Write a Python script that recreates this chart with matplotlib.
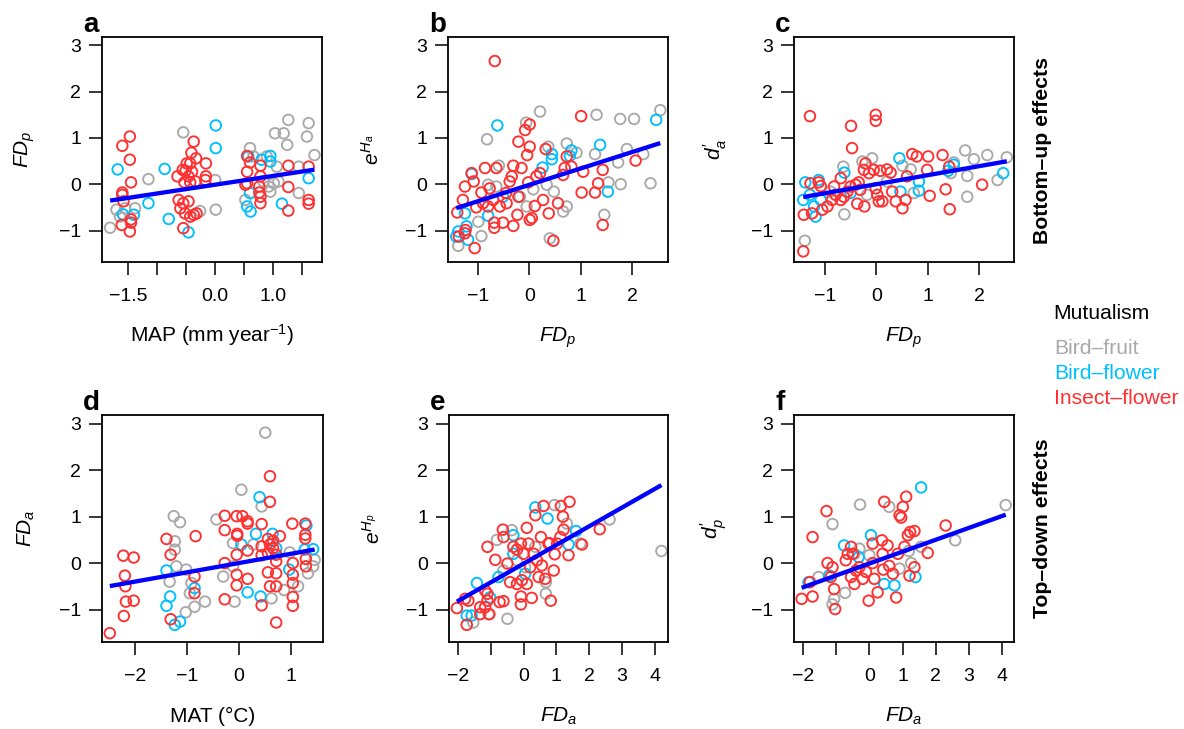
import matplotlib
matplotlib.use("Agg")
import matplotlib.pyplot as plt
import numpy as np

plt.rcParams["font.family"] = ["Liberation Sans", "DejaVu Sans"]
plt.rcParams["mathtext.fontset"] = "custom"
plt.rcParams["mathtext.rm"] = "Liberation Sans"
plt.rcParams["mathtext.it"] = "Liberation Sans:italic"
plt.rcParams["mathtext.bf"] = "Liberation Sans:bold"

# ── groups / colours ──────────────────────────────────────────────────────────
GROUPS = ["Bird\u2013fruit", "Bird\u2013flower", "Insect\u2013flower"]
COLORS = ["#A9A9A9", "#00BFFF", "#FF3030"]
LINE_COLOR = "#0000FF"

# ── panel a: MAP vs FD_p ──────────────────────────────────────────────────────
A_FRUIT_X = [-1.81, -1.70, -1.64, -1.55, -1.38, -1.15, -0.55, -0.26, 0.01, 0.00,
             0.60, 0.66, 0.83, 0.92, 0.95, 1.01, 1.06, 1.09, 1.03, 1.18,
             1.26, 1.24, 1.44, 1.44, 1.61, 1.58, 1.71, 0.52, 0.89]
A_FRUIT_Y = [-0.94, -0.55, -0.70, -0.52, -0.52, 0.11, 1.12, -0.58, -0.55, 0.09,
             0.78, 0.60, 0.06, -0.05, -0.16, 0.02, 0.38, 0.06, 1.10, 1.10,
             1.39, 0.85, 0.38, -0.19, 1.32, 1.03, 0.63, -0.34, 0.60]
A_FLOWER_X = [-1.68, -1.59, -1.40, -1.15, -0.87, -0.80, 0.01, 0.01, -0.46, 0.57,
              0.55, 0.61, 0.80, 0.95, 0.95, 1.15, 1.61, 0.60]
A_FLOWER_Y = [0.32, -0.65, -0.66, -0.41, 0.33, -0.75, 1.27, 0.78, -1.04, 0.60,
              -0.48, -0.59, 0.53, 0.61, 0.49, -0.42, 0.13, -0.19]
A_INSECT_X = [-1.47, -1.60, -1.47, -1.45, -1.60, -1.60, -1.58, -1.45, -1.45, -1.61, -1.47,
              -0.65, -0.56, -0.51, -0.43, -0.37, -0.41, -0.33, -0.49, -0.40, -0.46, -0.53, -0.43, -0.34,
              -0.63, -0.55, -0.60, -0.46, -0.52, -0.43, -0.37, -0.32, -0.55, -0.16, -0.16, -0.17,
              0.55, 0.60, 0.55, 0.55, 0.78, 0.78, 0.76, 0.76, 0.78, 0.78,
              1.26, 1.26, 1.26, 1.61, 1.61, 1.61, 0.52]
A_INSECT_Y = [1.03, 0.83, 0.53, 0.04, -0.18, -0.23, -0.37, -0.76, -0.83, -0.88, -1.02,
              0.17, 0.31, 0.29, 0.45, 0.92, 0.68, 0.56, 0.45, 0.27, 0.17, 0.04, 0.04, 0.06,
              -0.34, -0.41, -0.52, -0.37, -0.63, -0.70, -0.66, -0.63, -0.95, 0.45, 0.17, 0.09,
              0.61, 0.47, 0.27, 0.02, 0.40, 0.17, -0.05, -0.18, -0.27, -0.41,
              0.40, -0.06, -0.57, 0.38, -0.34, -0.42, -0.01]

# ── panel b: FD_p vs e^H_a ────────────────────────────────────────────────────
B_FRUIT_X = [-0.82, -0.06, 0.21, 0.37, 0.73, 0.92, -0.59, -0.80, -0.64, -0.18,
             -0.05, 0.08, 0.34, 0.48, 0.66, 0.40, -0.93, -0.99, -1.38, 1.31,
             1.77, 2.04, 2.55, 1.28, 1.73, 1.90, 2.22, 1.54, 1.78, 2.36, 1.46, 0.73]
B_FRUIT_Y = [0.97, 1.33, 1.57, 0.81, 0.88, 0.68, 0.40, -0.01, -0.05, -0.27,
             -0.48, -0.11, -0.01, -0.16, -0.59, -1.17, -1.12, -0.81, -1.33, 1.50,
             1.41, 1.41, 1.60, 0.65, 0.47, 0.76, 0.65, 0.04, 0.00, 0.02, -0.66, -0.48]
B_FLOWER_X = [-0.62, -1.12, -1.25, -1.22, -1.38, -1.42, -1.19, -0.80, 0.26, 0.44,
              0.44, 0.82, 0.79, 1.38, 1.53, 2.47, -0.51]
B_FLOWER_Y = [1.27, 0.22, -0.63, -0.91, -1.02, -1.13, -1.20, -0.68, 0.36, 0.65,
              0.54, 0.73, 0.61, 0.85, -0.16, 1.39, -0.27]
B_INSECT_X = [-0.67, 1.01, 0.01, -0.08, 0.01, -0.21, -0.04, 0.32, 0.73, -0.64,
              -0.86, -1.12, -1.08, -1.25, -0.93, -0.77, -0.31, -0.15, -0.34, -0.38,
              -0.45, -0.21, -0.02, 0.14, 0.21, -0.90, -0.80, -0.70, -0.57, -0.44,
              -1.29, -1.40, -1.03, -0.68, -0.68, -0.51, -0.31, -0.23, 0.05, 0.01,
              0.11, 0.27, 0.38, 0.56, 0.47, -1.06, -1.24, -1.25, -1.37, 0.66,
              0.69, 0.82, 1.05, 1.02, 1.28, 1.34, 1.43, 1.43, 2.07]
B_INSECT_Y = [2.66, 1.47, 1.29, 1.17, 0.81, 0.92, 0.63, 0.76, 0.60, 0.35,
              0.35, 0.24, 0.06, -0.05, -0.18, -0.09, 0.40, 0.35, 0.17, 0.06,
              -0.19, -0.27, 0.04, 0.17, 0.24, -0.41, -0.48, -0.34, -0.48, -0.41,
              -0.34, -0.61, -0.50, -0.83, -0.94, -0.83, -0.90, -0.66, -0.73, -0.77,
              -0.47, -0.34, -0.63, -0.41, -1.22, -1.38, -0.99, -1.06, -1.13, 0.20,
              0.35, 0.38, 0.27, -0.18, -0.18, 0.02, 0.31, -0.88, 0.51]

# ── panel c: FD_p vs d'_a ─────────────────────────────────────────────────────
C_FRUIT_X = [-1.39, -0.62, -0.64, -0.27, -0.08, 0.51, 0.67, 0.21, -0.18, -0.89,
             1.45, 1.51, 1.77, 1.73, 1.90, 2.16, 2.54, 2.36, 1.77, 0.73]
C_FRUIT_Y = [-1.22, -0.65, 0.38, 0.49, 0.56, 0.40, 0.32, 0.06, -0.23, -0.16,
             0.24, 0.47, 0.18, 0.73, 0.54, 0.63, 0.58, 0.09, -0.27, -0.19]
C_FLOWER_X = [-1.38, -1.42, -1.29, -1.21, -1.18, -1.12, -1.08, -0.62, -0.50, 0.45,
              0.47, 0.83, 0.83, 1.51, 1.40, 2.47]
C_FLOWER_Y = [0.04, -0.34, -0.23, -0.48, -0.70, 0.09, -0.34, 0.25, -0.19, 0.56,
              -0.16, 0.06, -0.14, 0.42, 0.29, 0.24]
C_INSECT_X = [-1.29, -1.41, -1.42, -0.49, -0.47, -0.01, -0.01, -1.28, -1.12, -1.08,
              -1.25, -1.05, -0.95, -0.86, -0.79, -0.69, -0.69, -0.63, -0.56, -0.50,
              -0.40, -0.34, -0.37, -0.23, -0.21, -0.24, -0.14, -0.05, 0.08, 0.21,
              0.28, -0.01, 0.02, 0.05, 0.12, 0.31, 0.38, 0.51, 0.57, 0.60,
              0.70, 0.79, 1.01, 0.99, 1.04, 1.29, 1.35, 1.43, 1.42, 2.06,
              -0.31, -0.82]
C_INSECT_Y = [1.47, -0.66, -1.45, 1.26, 0.78, 1.50, 1.37, 0.02, 0.04, -0.04,
              -0.63, -0.55, -0.48, -0.34, -0.23, 0.13, -0.34, -0.27, -0.16, -0.05,
              -0.01, 0.04, -0.42, -0.48, 0.45, 0.31, 0.24, 0.31, 0.29, 0.32,
              0.25, -0.09, -0.23, -0.37, -0.37, -0.16, -0.37, -0.52, -0.34, 0.17,
              0.65, 0.60, 0.60, 0.31, -0.25, 0.63, -0.11, -0.54, 0.38, -0.01,
              -0.12, -0.05]

# ── panel d: MAT vs FD_a ──────────────────────────────────────────────────────
D_FRUIT_X = [0.51, 0.05, -1.25, -1.13, -0.43, -1.23, -1.23, -1.20, -1.33, -1.01,
             -0.91, -0.94, -0.85, -0.65, -1.02, -0.11, -0.11, -0.30, -0.08, 0.28,
             0.44, 0.63, 0.87, 1.14, 0.98, 1.46, 1.33, 1.43]
D_FRUIT_Y = [2.81, 1.58, 1.01, 0.88, 0.94, 0.47, 0.29, -0.07, -0.40, -0.14,
             -0.43, -0.65, -0.94, -0.83, -1.06, 0.43, -0.07, -0.29, -0.83, 0.40,
             1.22, -0.76, -0.58, -0.50, 0.23, 0.07, -0.22, -0.07]
D_FLOWER_X = [-1.39, -1.32, -1.39, -1.23, -1.13, -0.85, 0.33, 0.40, 0.05, 0.17,
              0.42, 0.65, 0.72, 0.97, 1.30, 1.27, 1.43]
D_FLOWER_Y = [-0.16, -0.72, -0.92, -1.33, -1.26, -0.54, 0.63, 1.42, 0.40, -0.63,
              -0.72, 0.63, 0.32, -0.14, 0.81, 0.29, 0.30]
D_INSECT_X = [-2.48, -2.22, -2.02, -2.19, -2.18, -2.17, -2.02, -2.21, -1.39, -1.31,
              -1.31, -0.83, -0.85, -0.85, -0.27, -0.27, -0.27, -0.27, -0.04, 0.07,
              0.17, 0.17, -0.03, -0.03, -0.04, -0.04, -0.04, 0.17, 0.17, 0.44,
              0.44, 0.44, 0.44, 0.60, 0.60, 0.56, 0.66, 0.60, 0.66, 0.56,
              0.72, 0.56, 0.72, 0.72, 0.60, 0.72, 0.72, 1.03, 1.04, 1.04,
              1.04, 1.04, 1.04, 1.28, 1.28, 1.28, 1.29, 1.29, 0.79]
D_INSECT_Y = [-1.51, 0.16, 0.12, -0.27, -0.50, -0.83, -0.81, -1.14, 0.52, 0.18,
              -1.21, 0.58, -0.29, -0.65, 1.02, 0.71, 0.00, -0.78, 1.01, 1.01,
              0.90, 0.85, 0.63, 0.59, 0.18, -0.25, -0.48, 0.27, -0.34, 0.84,
              0.36, 0.17, -0.91, 1.87, 1.32, 0.52, 0.48, 0.40, 0.32, 0.22,
              0.18, -0.20, 0.04, -0.22, -0.50, -0.50, -1.28, 0.85, 0.00, -0.25,
              -0.43, -0.73, -0.92, 0.85, 0.61, 0.53, 0.09, -0.07, 0.58]

# ── panel e: FD_a vs e^H_p ────────────────────────────────────────────────────
E_FRUIT_X = [-1.53, -1.07, -0.81, -0.36, -0.49, -0.61, 0.05, 0.68, 0.68, 0.94,
             1.32, 1.73, 2.62, 4.20, 0.36, -0.20]
E_FRUIT_Y = [-1.28, -1.10, 0.50, 0.71, -1.20, -0.16, -0.09, -0.41, -0.66, 1.25,
             0.85, 0.42, 0.94, 0.26, 0.35, 0.06]
E_FLOWER_X = [-1.73, -1.58, -1.42, -1.02, -0.76, -0.31, -0.31, 0.05, 0.36, 0.73,
              1.37, 1.60]
E_FLOWER_Y = [-1.13, -1.13, -0.43, -0.74, -0.30, 0.60, 0.20, -0.23, 1.20, 0.96,
              0.40, 0.69]
E_INSECT_X = [-2.03, -1.78, -1.68, -1.73, -1.32, -1.32, -1.17, -1.10, -1.10, -1.04,
              -1.17, -1.10, -0.86, -0.63, -0.61, -0.73, -0.61, -0.49, -0.41, -0.31,
              -0.20, -0.08, 0.10, 0.00, 0.15, -0.05, -0.20, -0.08, -0.08, 0.10,
              0.25, 0.36, 0.61, 0.31, 0.41, 0.46, 0.56, 0.53, 0.76, 0.79,
              0.95, 0.92, 0.83, 0.66, 1.02, 1.14, 1.20, 1.40, 1.22, 1.37,
              1.78, 2.32, 1.12, 0.20]
E_INSECT_Y = [-0.97, -0.77, -0.81, -1.33, -0.95, -1.10, -0.95, -0.66, -0.81, -1.10,
              -0.59, 0.35, 0.07, 0.72, 0.56, -0.84, -0.82, -0.01, -0.41, 0.35,
              0.29, 0.42, 0.76, 0.20, 0.42, -0.37, -0.45, -0.89, -0.72, -0.45,
              -0.75, 1.03, 1.23, 0.20, 0.06, -0.30, -0.05, 0.56, 0.42, 0.43,
              0.19, -0.16, -0.81, -0.34, 0.42, 1.23, 1.00, 1.32, 0.72, 0.17,
              0.40, 0.73, 0.56, -0.09]

# ── panel f: FD_a vs d'_p ─────────────────────────────────────────────────────
F_FRUIT_X = [-1.53, -1.11, -0.28, 0.60, -1.11, -0.73, -1.06, -0.45, 0.00, 1.19,
             1.56, 1.26, 0.91, 2.59, 4.11, -0.30]
F_FRUIT_Y = [-0.30, 0.84, 1.26, 1.21, -0.89, -0.64, -0.77, 0.20, 0.17, 0.26,
             0.35, 0.00, -0.12, 0.49, 1.25, 0.31]
F_FLOWER_X = [-1.83, -0.76, -0.32, 0.05, 0.45, 0.76, 1.39, 1.56, -1.21]
F_FLOWER_Y = [-0.41, 0.38, 0.13, 0.60, -0.45, -0.48, -0.30, 1.63, -0.27]
F_INSECT_X = [-2.04, -1.71, -1.71, -1.79, -1.29, -1.26, -1.11, -1.16, -1.06, -1.03,
              -0.71, -0.65, -0.55, -0.50, -0.55, -0.40, -0.30, -0.20, -0.10, -0.02,
              0.10, 0.10, 0.15, 0.25, 0.38, 0.40, 0.42, 0.45, 0.55, 0.60,
              0.71, 0.81, 0.86, 0.91, 0.96, 1.01, 1.11, 1.06, 1.16, 1.23,
              1.36, 1.21, 1.36, 1.76, 2.30, -0.45]
F_INSECT_Y = [-0.77, -0.72, 0.56, -0.41, 1.12, 0.00, -0.09, -0.30, -0.56, -0.99,
              0.06, 0.20, 0.35, 0.20, -0.30, -0.16, -0.09, -0.34, -0.19, -0.81,
              0.42, 0.00, -0.34, -0.63, 0.49, 0.20, -0.14, 1.32, 0.38, -0.06,
              -0.23, -0.74, 0.20, 1.03, 0.98, 1.21, 1.43, 0.35, 0.60, 0.67,
              0.69, -0.27, -0.09, 0.22, 0.81, -0.45]

# fitted lines (intercept, slope)
LINE_A = (-0.01, 0.19)
LINE_B = (-0.014, 0.354)
LINE_C = (0.0, 0.195)
LINE_D = (0.0, 0.20)
LINE_E = (-0.013, 0.403)
LINE_F = (-0.01, 0.256)

Y_TICKS = [-1, 0, 1, 2, 3]

W, H = 1184, 729
fig = plt.figure(figsize=(W / 100, H / 100), dpi=100)


def px_rect(left, top, right, bottom):
    return [left / W, 1 - bottom / H, (right - left) / W, (bottom - top) / H]


def draw_panel(rect, letter, data, line, xlim, ylim, xticks, xticklabels,
               xlabel, ylabel):
    ax = fig.add_axes(rect)
    for (xs, ys), c in zip(data, COLORS):
        ax.scatter(xs, ys, s=58, facecolors="none", edgecolors=c,
                   linewidths=1.35, zorder=2)
    lo = min(min(xs) for xs, _ in data)
    hi = max(max(xs) for xs, _ in data)
    xx = np.array([lo, hi])
    ax.plot(xx, line[0] + line[1] * xx, color=LINE_COLOR, lw=3.1,
            solid_capstyle="butt", zorder=3)
    ax.set_xlim(*xlim)
    ax.set_ylim(*ylim)
    ax.set_xticks(xticks)
    ax.set_xticklabels(xticklabels)
    ax.set_yticks(Y_TICKS)
    for sp in ax.spines.values():
        sp.set_linewidth(1.3)
    ax.tick_params(direction="out", length=9.5, width=1.1, labelsize=14)
    ax.tick_params(axis="x", pad=9.5)
    ax.tick_params(axis="y", pad=5.5)
    h_px = rect[3] * H
    w_px = rect[2] * W
    ax.set_xlabel(xlabel, fontsize=15)
    ax.xaxis.label.set_va("baseline")
    ax.xaxis.set_label_coords(0.5, -80 / h_px)
    ax.set_ylabel(ylabel, fontsize=15)
    ax.yaxis.set_label_coords(-65 / w_px, 0.5)
    ax.text(-19 / w_px, 1 + 5 / h_px, letter, transform=ax.transAxes,
            fontsize=20, fontweight="bold", ha="left", va="baseline")
    return ax


YLIM_TOP = (-1.68, 3.18)
YLIM_BOT = (-1.70, 3.19)

draw_panel(px_rect(102, 37, 322, 262), "a",
           [(A_FRUIT_X, A_FRUIT_Y), (A_FLOWER_X, A_FLOWER_Y), (A_INSECT_X, A_INSECT_Y)],
           LINE_A, (-1.95, 1.84), YLIM_TOP,
           [-1.5, -1.0, -0.5, 0.0, 0.5, 1.0, 1.5],
           ["\u22121.5", "", "", "0.0", "", "1.0", ""],
           "MAP (mm year$^{-1}$)", r"$FD_p$")

draw_panel(px_rect(448, 37, 668, 262), "b",
           [(B_FRUIT_X, B_FRUIT_Y), (B_FLOWER_X, B_FLOWER_Y), (B_INSECT_X, B_INSECT_Y)],
           LINE_B, (-1.58, 2.70), YLIM_TOP,
           [-1, 0, 1, 2], ["\u22121", "0", "1", "2"],
           r"$FD_p$", r"$e^{H_a}$")

draw_panel(px_rect(794, 37, 1014, 262), "c",
           [(C_FRUIT_X, C_FRUIT_Y), (C_FLOWER_X, C_FLOWER_Y), (C_INSECT_X, C_INSECT_Y)],
           LINE_C, (-1.60, 2.68), YLIM_TOP,
           [-1, 0, 1, 2], ["\u22121", "0", "1", "2"],
           r"$FD_p$", r"$d^{\prime}_{a}$")

draw_panel(px_rect(102, 415, 323, 642), "d",
           [(D_FRUIT_X, D_FRUIT_Y), (D_FLOWER_X, D_FLOWER_Y), (D_INSECT_X, D_INSECT_Y)],
           LINE_D, (-2.63, 1.62), YLIM_BOT,
           [-2, -1, 0, 1], ["\u22122", "\u22121", "0", "1"],
           "MAT (\u00b0C)", r"$FD_a$")

draw_panel(px_rect(449, 415, 668, 642), "e",
           [(E_FRUIT_X, E_FRUIT_Y), (E_FLOWER_X, E_FLOWER_Y), (E_INSECT_X, E_INSECT_Y)],
           LINE_E, (-2.27, 4.40), YLIM_BOT,
           [-2, -1, 0, 1, 2, 3, 4], ["\u22122", "", "0", "1", "2", "3", "4"],
           r"$FD_a$", r"$e^{H_p}$")

draw_panel(px_rect(794, 415, 1014, 642), "f",
           [(F_FRUIT_X, F_FRUIT_Y), (F_FLOWER_X, F_FLOWER_Y), (F_INSECT_X, F_INSECT_Y)],
           LINE_F, (-2.27, 4.36), YLIM_BOT,
           [-2, -1, 0, 1, 2, 3, 4], ["\u22122", "", "0", "1", "2", "3", "4"],
           r"$FD_a$", r"$d^{\prime}_{p}$")

# row titles
fig.text(1042.5 / W, 1 - 150 / H, "Bottom\u2013up effects", rotation=90,
         ha="center", va="center", fontsize=15.3, fontweight="bold")
fig.text(1042.5 / W, 1 - 528 / H, "Top\u2013down effects", rotation=90,
         ha="center", va="center", fontsize=15.3, fontweight="bold")

# legend as coloured text
fig.text(1053 / W, 1 - 319 / H, "Mutualism", fontsize=15.2, va="baseline")
for i, (name, c) in enumerate(zip(GROUPS, COLORS)):
    fig.text(1054 / W, 1 - (354 + 25 * i) / H, name, color=c,
             fontsize=15.2, va="baseline")

fig.savefig("out.png", dpi=100)
